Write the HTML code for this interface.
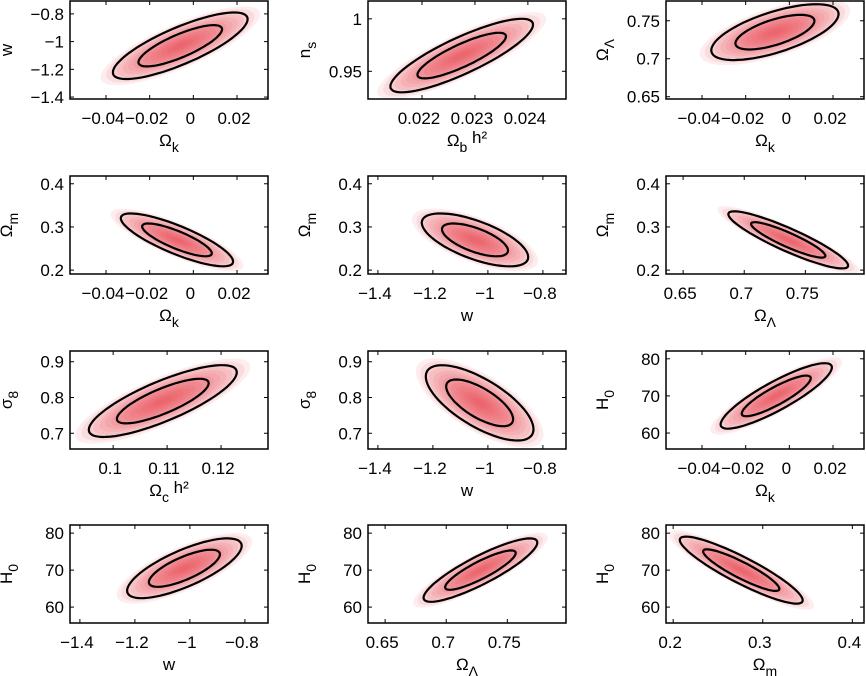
<!DOCTYPE html>
<html><head><meta charset="utf-8">
<style>
html,body{margin:0;padding:0;background:#fff;}
svg{display:block;font-family:"Liberation Sans",sans-serif;}
text{font-size:17px;fill:#000;}
</style></head>
<body>
<svg id="chart" width="866" height="676" viewBox="0 0 866 676" xmlns="http://www.w3.org/2000/svg"></svg>
<script>
// ---- data per panel (row-major, 12 panels) ----
const xLabels = [["Ω","k",""],["Ω","b"," h²"],["Ω","k",""],["Ω","k",""],["w","",""],["Ω","Λ",""],["Ω","c"," h²"],["w","",""],["Ω","k",""],["w","",""],["Ω","Λ",""],["Ω","m",""]];
const yLabels = [["w",""],["n","s"],["Ω","Λ"],["Ω","m"],["Ω","m"],["Ω","m"],["σ","8"],["σ","8"],["H","0"],["H","0"],["H","0"],["H","0"]];
const xRanges = [[-0.0565,0.0342],[0.02098,0.02472],[-0.0565,0.0342],[-0.0565,0.0342],[-1.436,-0.716],[0.636,0.798],[0.092,0.1287],[-1.436,-0.716],[-0.0565,0.0342],[-1.436,-0.716],[0.636,0.798],[0.192,0.413]];
const yRanges = [[-1.414,-0.707],[0.9236,1.017],[0.647,0.776],[0.191,0.418],[0.191,0.418],[0.191,0.418],[0.656,0.93],[0.656,0.93],[55.7,82.1],[55.7,82.2],[55.7,82.2],[55.7,82.2]];
const xTicks = [[-0.04,-0.02,0,0.02],[0.022,0.023,0.024],[-0.04,-0.02,0,0.02],[-0.04,-0.02,0,0.02],[-1.4,-1.2,-1,-0.8],[0.65,0.7,0.75],[0.1,0.11,0.12],[-1.4,-1.2,-1,-0.8],[-0.04,-0.02,0,0.02],[-1.4,-1.2,-1,-0.8],[0.65,0.7,0.75],[0.2,0.3,0.4]];
const yTicks = [[-1.4,-1.2,-1,-0.8],[0.95,1],[0.65,0.7,0.75],[0.2,0.3,0.4],[0.2,0.3,0.4],[0.2,0.3,0.4],[0.7,0.8,0.9],[0.7,0.8,0.9],[60,70,80],[60,70,80],[60,70,80],[60,70,80]];
const centersX = [-0.006,0.02275,-0.0066,-0.0075,-1.047,0.736,0.1092,-1.03,-0.006,-1.02,0.728,0.276];
const centersY = [-1.03,0.965,0.735,0.27,0.27,0.27,0.79,0.785,70,70.5,70,70];
const sigmasX = [0.0126,0.00055,0.0119,0.0105,0.079,0.02,0.0056,0.08,0.0104,0.085,0.019,0.028];
const sigmasY = [0.098,0.0143,0.015,0.025,0.025,0.027,0.041,0.043,3.6,3.3,3.5,3.7];
const rhos = [0.8,0.84,0.65,-0.82,-0.65,-0.9,0.8,-0.7,0.87,0.75,0.87,-0.9];
const contourLevels = [1.52,2.45];

const colLeft=[70,368,666], rowTop=[1,176,351,525], W=198, H=98;
const svg=document.getElementById('chart');
const NS='http://www.w3.org/2000/svg';
function mk(tag,attrs,parent){const e=document.createElementNS(NS,tag);for(const k in attrs)e.setAttribute(k,attrs[k]);(parent||svg).appendChild(e);return e;}
function fmt(v){let s=String(+v.toFixed(4));return s.replace('-','−');}

for(let p=0;p<12;p++){
  const x0=colLeft[p%3], y0=rowTop[Math.floor(p/3)];
  const [xa,xb]=xRanges[p],[ya,yb]=yRanges[p];
  const sx=v=>x0+(v-xa)/(xb-xa)*W;
  const sy=v=>y0+H-(v-ya)/(yb-ya)*H;
  const g=mk('g',{});
  
  
  const cp=mk('clipPath',{id:'c'+p},g);
  mk('rect',{x:x0,y:y0,width:W,height:H},cp);
  const plot=mk('g',{'clip-path':'url(#c'+p+')'},g);
  const ell=k=>{let d='';const r=rhos[p],q=Math.sqrt(1-r*r);
    for(let i=0;i<=72;i++){const t=i/72*2*Math.PI;
      const X=centersX[p]+k*sigmasX[p]*Math.cos(t);
      const Y=centersY[p]+k*sigmasY[p]*(r*Math.cos(t)+q*Math.sin(t));
      d+=(i?'L':'M')+sx(X).toFixed(1)+' '+sy(Y).toFixed(1);}
    return d+'Z';};
  for(let k=2.9;k>0.15;k-=0.2){
    const e=mk('path',{d:ell(k),fill:'#e8343c','fill-opacity':0.085},plot);
    
    
  }
  contourLevels.forEach((k,i)=>{
    const c=mk('path',{d:ell(k),fill:'none',stroke:'#000','stroke-width':2.2},plot);
    
    
  });
  const box=mk('rect',{x:x0,y:y0,width:W,height:H,fill:'none',stroke:'#000','stroke-width':1.5},g);
  
  
  xTicks[p].forEach(v=>{const X=sx(v);
    mk('line',{x1:X,x2:X,y1:y0+H,y2:y0+H-4,stroke:'#000'},g);
    mk('line',{x1:X,x2:X,y1:y0,y2:y0+4,stroke:'#000'},g);
    const t=mk('text',{x:X-3,y:y0+H+25,'text-anchor':'middle'},g);t.textContent=fmt(v);
    
    
  });
  yTicks[p].forEach(v=>{const Y=sy(v);
    mk('line',{x1:x0,x2:x0+4,y1:Y,y2:Y,stroke:'#000'},g);
    mk('line',{x1:x0+W,x2:x0+W-4,y1:Y,y2:Y,stroke:'#000'},g);
    const t=mk('text',{x:x0-6,y:Y+6,'text-anchor':'end'},g);t.textContent=fmt(v);
    
    
  });
  const xl=mk('text',{x:x0+W/2,y:y0+H+47,'text-anchor':'middle'},g);
  
  
  const L=xLabels[p];
  mk('tspan',{},xl).textContent=L[0];
  if(L[1]){mk('tspan',{dy:6,'font-size':'14px'},xl).textContent=L[1];}
  if(L[2]){mk('tspan',{dy:-9},xl).textContent=L[2];}
  const yx=x0-58;
  const yl=mk('text',{x:0,y:0,'text-anchor':'middle',transform:`translate(${yx},${y0+H/2}) rotate(-90)`},g);
  
  
  mk('tspan',{},yl).textContent=yLabels[p][0];
  if(yLabels[p][1]){mk('tspan',{dy:6,'font-size':'14px'},yl).textContent=yLabels[p][1];}
}
</script>
</body></html>
